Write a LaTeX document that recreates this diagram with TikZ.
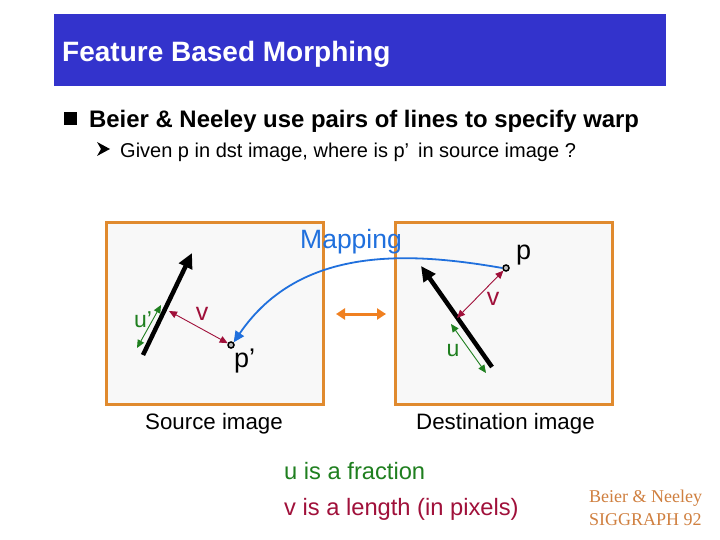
\documentclass[tikz,border=0pt]{standalone}
\usepackage{fontspec}
\setmainfont{Liberation Sans}
\newfontfamily\sigfont{Liberation Serif}
\usetikzlibrary{arrows.meta}
\definecolor{titleblue}{HTML}{3333CC}
\definecolor{boxorange}{HTML}{E08A2E}
\definecolor{boxfill}{HTML}{F8F8F8}
\definecolor{mapblue}{HTML}{2070DD}
\definecolor{ugreen}{HTML}{1F7F1F}
\definecolor{vred}{HTML}{A0103A}
\definecolor{dblorange}{HTML}{F08020}
\definecolor{sigcol}{HTML}{D08040}
\tikzset{
  imgbox/.style={draw=boxorange, line width=3pt, fill=boxfill},
  featline/.style={line width=4.5pt, -{Triangle[length=15pt,width=14pt]}},
  uarrow/.style={draw=ugreen, line width=0.9pt, {Triangle[length=8pt,width=7pt]}-{Triangle[length=8pt,width=7pt]}},
  varrow/.style={draw=vred, line width=0.9pt, {Triangle[length=8pt,width=7pt]}-{Triangle[length=8pt,width=7pt]}},
  pt/.style={circle, draw=black, fill=gray!50, line width=1.5pt, inner sep=0pt, minimum size=6pt},
  lbl/.style={inner sep=0pt, anchor=base west},
}
\begin{document}
\begin{tikzpicture}[x=1pt,y=-1pt]
\useasboundingbox (0,0) rectangle (720,540);
\fill[white] (0,0) rectangle (720,540);
% title bar
\fill[titleblue] (54,14) rectangle (666,86);
\node[lbl, text=white, font=\fontsize{28}{32}\selectfont\bfseries] (title) at (62,62) {Feature Based Morphing};
% bullets
\fill (64,112) rectangle (77,125);
\node[lbl, font=\fontsize{23.9}{28}\selectfont\bfseries] (b1) at (89,128) {Beier \& Neeley use pairs of lines to specify warp};
\fill (97,142) -- (110,149) -- (97,156) -- (101,149) -- cycle;
\node[lbl, font=\fontsize{20}{24}\selectfont] (b2) at (120,158) {Given p in dst image, where is p’\, in source image ?};
% image boxes
\draw[imgbox] (106,223) rectangle (323,404);
\draw[imgbox] (395,223) rectangle (612,404);
\node[lbl, font=\fontsize{22.3}{26}\selectfont] (src) at (145,429) {Source image};
\node[lbl, font=\fontsize{22.3}{26}\selectfont] (dst) at (416,429) {Destination image};
% points
\node[pt] (pp) at (231,345) {};
\node[pt] (p) at (506,268) {};
\node[lbl, font=\fontsize{27}{30}\selectfont] (pplbl) at (234,367) {p’};
\node[lbl, font=\fontsize{27}{30}\selectfont] (plbl) at (516,259) {p};
% left feature line
\coordinate (l1) at (143,355);
\coordinate (l2) at (192,253);
\draw[featline] (l1) -- (l2);
\coordinate (lu1) at (137,348);
\coordinate (lu2) at (161,305);
\draw[uarrow] (lu1) -- (lu2);
\coordinate (lv1) at (169,311);
\draw[varrow] (lv1) -- (pp);
\node[text=ugreen, font=\fontsize{23}{26}\selectfont, inner sep=0pt] (ulbl) at (143,320) {u’};
\node[text=vred, font=\fontsize{25}{26}\selectfont, inner sep=0pt] (vlbl) at (202,314) {v};
% right feature line
\coordinate (r1) at (492,367);
\coordinate (r2) at (421,266);
\draw[featline] (r1) -- (r2);
\coordinate (ru1) at (451,324);
\coordinate (ru2) at (486,373);
\draw[uarrow] (ru1) -- (ru2);
\coordinate (rv1) at (457,318);
\draw[varrow] (rv1) -- (p);
\node[text=ugreen, font=\fontsize{23}{26}\selectfont, inner sep=0pt] (urlbl) at (453,351) {u};
\node[text=vred, font=\fontsize{25}{26}\selectfont, inner sep=0pt] (vrlbl) at (493,299) {v};
% mapping
\node[lbl, text=mapblue, font=\fontsize{26.5}{30}\selectfont] (map) at (300,248) {Mapping};
\draw[mapblue, line width=1.8pt, -{Triangle[length=11pt,width=10pt]}] (p.west) .. controls (410,252) and (300,245) .. (pp.north east);
% double arrow
\coordinate (d1) at (336,314);
\coordinate (d2) at (386,314);
\draw[dblorange, line width=3pt, {Triangle[length=9pt,width=11pt]}-{Triangle[length=9pt,width=11pt]}] (d1) -- (d2);
% explanations
\node[lbl, text=ugreen, font=\fontsize{23.7}{26}\selectfont] (ufrac) at (284,479) {u is a fraction};
\node[lbl, text=vred, font=\fontsize{23.7}{26}\selectfont] (vlen) at (284,515) {v is a length (in pixels)};
% signature
\node[lbl, text=sigcol, font=\sigfont\fontsize{18}{20}\selectfont] (sig1) at (589,502) {Beier \& Neeley};
\node[lbl, text=sigcol, font=\sigfont\fontsize{18}{20}\selectfont] (sig2) at (589,525) {SIGGRAPH 92};
\end{tikzpicture}
\end{document}
